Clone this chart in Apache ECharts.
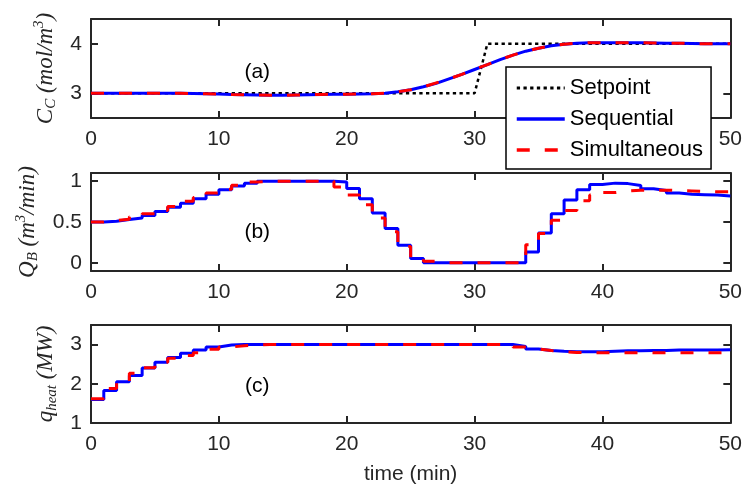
<!DOCTYPE html>
<html>
<head>
<meta charset="utf-8">
<script src="https://cdn.jsdelivr.net/npm/echarts@6/dist/echarts.min.js"></script>
<style>
  html, body { margin: 0; padding: 0; background: #ffffff; }
  #chart { width: 745px; height: 489px; }
</style>
</head>
<body>
<div id="chart"></div>
<script>
// Time grid (min) shared by all three panels
const minutes = [0,1,2,3,4,5,6,7,8,9,10,11,12,13,14,15,16,17,18,19,20,21,22,23,24,25,26,27,28,29,30,31,32,33,34,35,36,37,38,39,40,41,42,43,44,45,46,47,48,49,50];

// (a) product concentration C_C
const setpointTime = [0, 30, 31, 50];
const setpointCC = [3, 3, 4, 4];
const sequentialCC = [3.0,3.0,3.0,3.0,3.0,3.0,3.0,3.0,2.995,2.99,2.985,2.975,2.97,2.965,2.96,2.96,2.965,2.97,2.975,2.98,2.98,2.985,2.99,3.0,3.03,3.07,3.13,3.2,3.29,3.38,3.48,3.58,3.68,3.77,3.85,3.91,3.96,3.99,4.01,4.02,4.02,4.02,4.02,4.02,4.015,4.01,4.01,4.005,4.0,4.0,4.0];
const simultaneousCC = [3.0,3.0,3.0,3.0,3.0,3.0,3.0,3.0,2.995,2.99,2.985,2.975,2.97,2.965,2.96,2.96,2.965,2.97,2.975,2.98,2.98,2.985,2.99,3.0,3.03,3.07,3.13,3.21,3.29,3.38,3.48,3.58,3.68,3.77,3.85,3.91,3.96,3.99,4.01,4.02,4.02,4.02,4.02,4.02,4.015,4.01,4.01,4.005,4.0,4.0,4.0];

// (b) feed flow Q_B, held constant over each minute
const sequentialQB = [0.50,0.51,0.53,0.55,0.58,0.63,0.68,0.73,0.785,0.84,0.895,0.94,0.975,1.0,1.0,1.0,1.0,1.0,1.0,0.99,0.91,0.785,0.61,0.42,0.216,0.054,0,0,0,0,0,0,0,0,0.134,0.366,0.60,0.77,0.895,0.96,0.976,0.97,0.948,0.907,0.887,0.854,0.84,0.835,0.83,0.817,0.81];
const simultaneousQB = [0.50,0.52,0.535,0.565,0.60,0.64,0.69,0.755,0.80,0.855,0.90,0.95,0.99,1.0,1.0,1.0,1.0,1.0,1.0,0.93,0.83,0.71,0.55,0.38,0.20,0.05,0.02,0,0,0,0,0,0,0,0.22,0.36,0.52,0.64,0.76,0.83,0.86,0.88,0.89,0.89,0.89,0.885,0.88,0.875,0.87,0.87,0.87];

// (c) heating duty q_heat, held constant over each minute
const sequentialQH = [1.60,1.83,2.05,2.21,2.40,2.55,2.67,2.78,2.86,2.94,2.99,3.0,3.0,3.0,3.0,3.0,3.0,3.0,3.0,3.0,3.0,3.0,3.0,3.0,3.0,3.0,3.0,3.0,3.0,3.0,3.0,3.0,3.0,2.95,2.89,2.85,2.83,2.82,2.82,2.82,2.83,2.84,2.84,2.85,2.85,2.86,2.86,2.86,2.86,2.87,2.87];
const simultaneousQH = [1.62,1.88,2.05,2.27,2.41,2.55,2.65,2.72,2.79,2.88,2.94,2.97,2.99,3.0,3.0,3.0,3.0,3.0,3.0,3.0,3.0,3.0,3.0,3.0,3.0,3.0,3.0,3.0,3.0,3.0,3.0,3.0,3.0,2.94,2.89,2.85,2.82,2.80,2.79,2.79,2.79,2.79,2.79,2.79,2.79,2.79,2.79,2.79,2.79,2.79,2.79];

// Axis tick values and panel tags
const xTicks = [0, 10, 20, 30, 40, 50];
const yTicksA = [3, 4];
const yTicksB = [0, 0.5, 1];
const yTicksC = [1, 2, 3];
const panelTags = ['(a)', '(b)', '(c)'];

const pair = (xs, ys) => xs.map((x, i) => [x, ys[i]]);

const INK = '#262626';
const SANS = 'Liberation Sans, Arial, Helvetica, sans-serif';
const SERIF = 'Liberation Serif, Times New Roman, serif';
const BLUE = '#0000ff', RED = '#ff0000';
const DASH = [13, 15];

const grids = [
  { left: 91, right: 14, top: 19, height: 99 },
  { left: 91, right: 14, top: 173, height: 98 },
  { left: 91, right: 14, top: 325, height: 98 }
];

function baseAxis(extra) {
  return Object.assign({
    axisLine: { show: true, onZero: false, lineStyle: { color: INK, width: 2 } },
    axisTick: { show: true, inside: true, length: 7, lineStyle: { color: INK, width: 2 } },
    splitLine: { show: false },
    axisLabel: { show: false }
  }, extra);
}

const xAxes = [];
const yAxes = [];
const yRanges = [[2.5, 4.5, yTicksA], [-0.1, 1.1, yTicksB], [1, 3.5, yTicksC]];
const labelRich = {
  i: { fontFamily: SERIF, fontStyle: 'italic', fontSize: 23, color: INK },
  sub: { fontFamily: SERIF, fontStyle: 'italic', fontSize: 15, color: INK, padding: [12, 0, 0, 0] },
  sup: { fontFamily: SERIF, fontStyle: 'italic', fontSize: 15, color: INK, padding: [0, 0, 12, 0] }
};
const yNames = [
  '{i|C}{sub|C}{i| (mol/m}{sup|3}{i|)}',
  '{i|Q}{sub|B}{i| (m}{sup|3}{i|/min)}',
  '{i|q}{sub|heat}{i| (MW)}'
];
const yNameGaps = [32, 50, 30];

for (let g = 0; g < 3; g++) {
  // bottom axis with labels
  xAxes.push(baseAxis({
    type: 'value', gridIndex: g, position: 'bottom', min: 0, max: 50,
    axisTick: { show: true, inside: true, length: 7, customValues: xTicks, lineStyle: { color: INK, width: 2 } },
    axisLabel: { show: true, customValues: xTicks, margin: 11, color: INK, fontSize: 21, fontFamily: SANS },
    name: g === 2 ? 'time (min)' : '',
    nameLocation: 'middle', nameGap: 41,
    nameTextStyle: { color: INK, fontSize: 21, fontFamily: SANS }
  }));
  // top mirror axis
  xAxes.push(baseAxis({
    type: 'value', gridIndex: g, position: 'top', min: 0, max: 50,
    axisTick: { show: true, inside: true, length: 7, customValues: xTicks, lineStyle: { color: INK, width: 2 } }
  }));
  const [lo, hi, ticks] = yRanges[g];
  // left axis with labels
  yAxes.push(baseAxis({
    type: 'value', gridIndex: g, position: 'left', min: lo, max: hi,
    axisTick: { show: true, inside: true, length: 7, customValues: ticks, lineStyle: { color: INK, width: 2 } },
    axisLabel: { show: true, customValues: ticks, margin: 9, color: INK, fontSize: 21, fontFamily: SANS },
    name: yNames[g], nameLocation: 'middle', nameRotate: 90, nameGap: yNameGaps[g],
    nameTextStyle: { rich: labelRich }
  }));
  // right mirror axis
  yAxes.push(baseAxis({
    type: 'value', gridIndex: g, position: 'right', min: lo, max: hi,
    axisTick: { show: true, inside: true, length: 7, customValues: ticks, lineStyle: { color: INK, width: 2 } }
  }));
}

function lineSeries(name, g, data, color, type, width, step) {
  return {
    name: name, type: 'line', xAxisIndex: g * 2, yAxisIndex: g * 2,
    data: data, step: step || false, symbol: 'none', showSymbol: false, smooth: false,
    lineStyle: { color: color, width: width, type: type },
    itemStyle: { color: color },
    animation: false
  };
}

const series = [
  lineSeries('Setpoint', 0, pair(setpointTime, setpointCC), '#000000', [3.3, 3.4], 2.5),
  lineSeries('Sequential', 0, pair(minutes, sequentialCC), BLUE, 'solid', 3),
  lineSeries('Simultaneous', 0, pair(minutes, simultaneousCC), RED, DASH, 3),
  lineSeries('Sequential', 1, pair(minutes, sequentialQB), BLUE, 'solid', 3, 'end'),
  lineSeries('Simultaneous', 1, pair(minutes, simultaneousQB), RED, DASH, 3, 'end'),
  lineSeries('Sequential', 2, pair(minutes, sequentialQH), BLUE, 'solid', 3, 'end'),
  lineSeries('Simultaneous', 2, pair(minutes, simultaneousQH), RED, DASH, 3, 'end')
];

const chart = echarts.init(document.getElementById('chart'), null, { renderer: 'canvas' });
chart.setOption({
  backgroundColor: '#ffffff',
  animation: false,
  grid: grids,
  xAxis: xAxes,
  yAxis: yAxes,
  legend: {
    data: [
      { name: 'Setpoint', lineStyle: { width: 3 } },
      { name: 'Sequential', lineStyle: { width: 3.5 } },
      { name: 'Simultaneous', lineStyle: { width: 3.5 } }
    ],
    orient: 'vertical', left: 506, top: 67,
    width: 204,
    padding: [10, 8, 8, 9],
    itemWidth: 48, itemHeight: 20, itemGap: 9,
    itemStyle: { opacity: 0, borderWidth: 0 },
    backgroundColor: '#ffffff', borderColor: '#000000', borderWidth: 1.5,
    textStyle: { color: '#000000', fontSize: 22, fontFamily: SANS },
    selectedMode: false,
    z: 10
  },
  series: series
});

// Panel tags placed in data coordinates of each panel
const tagPositions = [[13, 3.43], [13, 0.37], [13, 1.93]];
const tagGraphics = panelTags.map((t, g) => {
  const p = chart.convertToPixel({ gridIndex: g }, tagPositions[g]);
  return {
    type: 'text', x: p[0], y: p[1], z: 5,
    style: { text: t, fill: '#000000', fontSize: 21, fontFamily: SANS, align: 'center', verticalAlign: 'middle' }
  };
});
chart.setOption({ graphic: tagGraphics });
</script>
</body>
</html>
